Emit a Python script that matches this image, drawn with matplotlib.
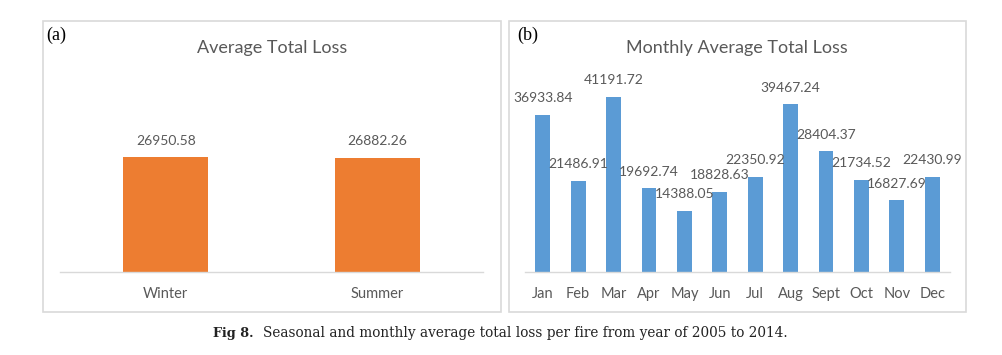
import matplotlib
matplotlib.use("Agg")
import matplotlib.pyplot as plt
from matplotlib.patches import Rectangle

seasons = ["Winter", "Summer"]
season_loss = [26950.58, 26882.26]
months = ["Jan", "Feb", "Mar", "Apr", "May", "Jun", "Jul", "Aug", "Sept", "Oct", "Nov", "Dec"]
month_loss = [36933.84, 21486.91, 41191.72, 19692.74, 14388.05, 18828.63,
              22350.92, 39467.24, 28404.37, 21734.52, 16827.69, 22430.99]

W, H = 1002, 355
fig = plt.figure(figsize=(W / 100, H / 100), dpi=100)
fig.patch.set_facecolor("white")

GRAY = "#595959"
FONT = ["Lato", "DejaVu Sans"]
SERIF = ["Liberation Serif", "DejaVu Serif"]
CAPSERIF = ["DejaVu Serif"]

def px_axes(x0, x1, ybot, ytop):
    return fig.add_axes([x0 / W, 1 - ybot / H, (x1 - x0) / W, (ybot - ytop) / H])

# panel borders
for (x0, y0, x1, y1) in [(43, 21, 501, 312), (509, 21, 966, 312)]:
    fig.patches.append(Rectangle((x0 / W, 1 - y1 / H), (x1 - x0) / W, (y1 - y0) / H,
                                 transform=fig.transFigure, fill=False,
                                 edgecolor="#d9d9d9", linewidth=1.2))

scale = 4.25 / 1000.0  # px per unit

def style(ax):
    for s in ["top", "left", "right"]:
        ax.spines[s].set_visible(False)
    ax.spines["bottom"].set_color("#d9d9d9")
    ax.spines["bottom"].set_linewidth(1.0)
    ax.set_yticks([])
    ax.tick_params(axis="x", length=0, pad=10.5, labelsize=10.5, labelcolor=GRAY)
    for t in ax.get_xticklabels():
        t.set_family(FONT)
    ax.set_facecolor("none")

# Panel (a)
ymax_a = 30000
axa = px_axes(60, 483, 272, 272 - ymax_a * scale)
xa = list(range(len(seasons)))
axa.bar(xa, season_loss, width=0.40, color="#ED7D31")
axa.set_xlim(-0.5, len(seasons) - 0.5)
axa.set_ylim(0, ymax_a)
axa.set_xticks(xa)
axa.set_xticklabels(seasons)
style(axa)
for x, v in zip(xa, season_loss):
    axa.annotate(f"{v:.2f}", (x, v), xytext=(0, 12), textcoords="offset points",
                 ha="center", va="center", fontsize=10, color=GRAY, family=FONT)

# Panel (b)
ymax_b = 45000
axb = px_axes(525, 950, 272, 272 - ymax_b * scale)
xb = list(range(len(months)))
axb.bar(xb, month_loss, width=0.42, color="#5B9BD5")
axb.set_xlim(-0.5, len(months) - 0.5)
axb.set_ylim(0, ymax_b)
axb.set_xticks(xb)
axb.set_xticklabels(months)
style(axb)
for x, v in zip(xb, month_loss):
    axb.annotate(f"{v:.2f}", (x, v), xytext=(0, 12), textcoords="offset points",
                 ha="center", va="center", fontsize=10, color=GRAY, family=FONT,
                 clip_on=False)

# titles
fig.text(272 / W, 1 - 48 / H, "Average Total Loss", ha="center", va="center",
         fontsize=13, color=GRAY, family=FONT)
fig.text(737 / W, 1 - 48 / H, "Monthly Average Total Loss", ha="center", va="center",
         fontsize=13, color=GRAY, family=FONT)

# panel letters
fig.text(46 / W, 1 - 35 / H, "(a)", ha="left", va="center", fontsize=13,
         color="black", family=SERIF)
fig.text(517 / W, 1 - 35 / H, "(b)", ha="left", va="center", fontsize=13,
         color="black", family=SERIF)

# caption
fig.canvas.draw()
r = fig.canvas.get_renderer()
t1 = fig.text(213 / W, 1 - 333 / H, "Fig 8.", ha="left", va="center", fontsize=9,
              fontweight="bold", family=CAPSERIF, color="#222222")
t2 = fig.text(263 / W, 1 - 333 / H, "Seasonal and monthly average total loss per fire from year of 2005 to 2014.",
              ha="left", va="center", fontsize=9, family=CAPSERIF, color="#222222")
w2 = t2.get_window_extent(r).width
t2.set_fontsize(9 * (790 - 263) / w2)
w1 = t1.get_window_extent(r).width
t1.set_fontsize(9 * (254 - 213) / w1)

fig.savefig("out.png", dpi=100, facecolor="white")
